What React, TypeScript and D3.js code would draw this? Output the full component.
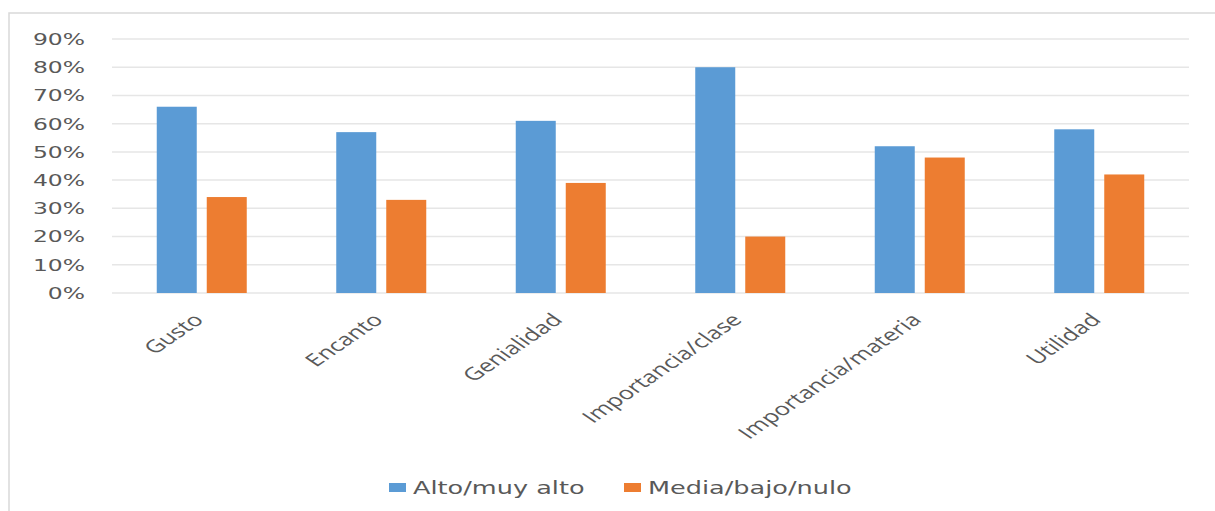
import React from "react";
import * as d3 from "d3";

const categories = ["Gusto", "Encanto", "Genialidad", "Importancia/clase", "Importancia/materia", "Utilidad"];
const seriesNames = ["Alto/muy alto", "Media/bajo/nulo"];
const altoValues = [0.66, 0.57, 0.61, 0.80, 0.52, 0.58];
const mediaValues = [0.34, 0.33, 0.39, 0.20, 0.48, 0.42];
const yTicks = [0, 0.1, 0.2, 0.3, 0.4, 0.5, 0.6, 0.7, 0.8, 0.9];
const colors = ["#5B9BD5", "#ED7D31"];

// layout constants
const W = 1215, H = 511;
const plotLeft = 112, plotRight = 1189, plotTop = 39, plotBottom = 293;
const stretch = 1.42;

export default function App() {
  const x0 = d3.scaleBand<string>().domain(categories).range([plotLeft, plotRight]).padding(0);
  const groupW = 90;
  const x1 = d3.scaleBand<string>().domain(seriesNames).range([0, groupW]).paddingInner(0.2);
  const y = d3.scaleLinear().domain([0, 0.9]).range([plotBottom, plotTop]);
  const fmt = d3.format(".0%");
  const series = [altoValues, mediaValues];

  return (
    <svg width={W} height={H} style={{ position: "absolute", left: 0, top: 0, background: "#fff" }}>
      <rect x={9} y={13} width={W + 10} height={H + 10} fill="#fff" stroke="#d9d9d9" strokeWidth={1.5} />
      {yTicks.map((t) => (
        <line key={"g" + t} x1={plotLeft} x2={plotRight} y1={y(t)} y2={y(t)} stroke="#e6e6e6" strokeWidth={1.5} />
      ))}
      {yTicks.map((t) => (
        <g key={"t" + t} transform={`translate(85,${y(t)}) scale(${stretch},1)`}>
          <text textAnchor="end" dy="0.36em" fontFamily="DejaVu Sans" fontSize={16.5} fill="#595959">
            {fmt(t)}
          </text>
        </g>
      ))}
      {series.map((vals, si) =>
        vals.map((v, ci) => {
          const bx = (x0(categories[ci]) as number) + (x0.bandwidth() - groupW) / 2 + (x1(seriesNames[si]) as number);
          return (
            <rect key={si + "-" + ci} x={bx} y={y(v)} width={x1.bandwidth()} height={y(0) - y(v)} fill={colors[si]} />
          );
        })
      )}
      {categories.map((c) => {
        const cx = (x0(c) as number) + x0.bandwidth() / 2 + 3;
        return (
          <g key={"l" + c} transform={`translate(${cx},321) scale(1.46,1) rotate(-45)`}>
            <text textAnchor="end" fontFamily="Open Sans" fontSize={17.5} fill="#595959">
              {c}
            </text>
          </g>
        );
      })}
      {seriesNames.map((s, si) => {
        const lx = [389, 624][si];
        return (
          <g key={"lg" + s}>
            <rect x={lx} y={483} width={17} height={9} fill={colors[si]} />
            <g transform={`translate(${lx + 24},487.5) scale(1.42,1)`}>
              <text dy="0.36em" fontFamily="DejaVu Sans" fontSize={18} fill="#595959">
                {s}
              </text>
            </g>
          </g>
        );
      })}
    </svg>
  );
}
